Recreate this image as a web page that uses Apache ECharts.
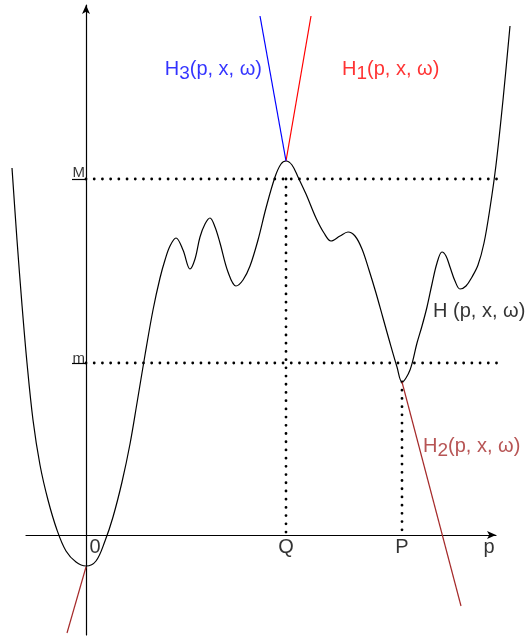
<!DOCTYPE html>
<html>
<head>
<meta charset="utf-8">
<title>H(p, x, ω)</title>
<script src="https://cdn.jsdelivr.net/npm/echarts@6/dist/echarts.min.js"></script>
<style>
html, body { margin: 0; padding: 0; background: #fff; }
#chart { width: 525px; height: 636px; }
</style>
</head>
<body>
<div id="chart"></div>
<script>
// H(p, x, ω) : valeurs (p en abscisse)
var curveP = [-1.85, -1.725, -1.6, -1.475, -1.325, -1.15, -0.95, -0.725, -0.5, -0.25,
    0, 0.25, 0.475, 0.675, 0.9, 1.1, 1.275, 1.475, 1.675, 1.85,
    1.975, 2.1, 2.25, 2.425, 2.6, 2.725, 2.85, 2.975, 3.1, 3.225,
    3.35, 3.55, 3.75, 3.925, 4.1, 4.3, 4.5, 4.725, 4.875, 5.0,
    5.15, 5.3, 5.5, 5.75, 5.95, 6.125, 6.35, 6.55, 6.725, 6.9,
    7.075, 7.25, 7.425, 7.6, 7.775, 7.9, 8.1, 8.275, 8.4, 8.525,
    8.65, 8.775, 8.9, 9.0, 9.1, 9.225, 9.35, 9.5, 9.65, 9.8,
    9.95, 10.1, 10.25, 10.425, 10.6];
var curveH = [9.175, 7.375, 5.75, 4.3, 2.875, 1.75, 0.875, 0.125, -0.4, -0.675,
    -0.775, -0.65, -0.15, 0.45, 1.325, 2.275, 3.3, 4.5, 5.625, 6.425,
    6.875, 7.225, 7.425, 7.125, 6.65, 6.9, 7.45, 7.775, 7.925, 7.7,
    7.3, 6.575, 6.225, 6.375, 6.725, 7.375, 8.175, 8.95, 9.275, 9.35,
    9.25, 8.95, 8.525, 7.925, 7.55, 7.35, 7.475, 7.575, 7.475, 7.15,
    6.625, 6.05, 5.425, 4.8, 4.2, 3.825, 4.125, 4.8, 5.225, 5.7,
    6.275, 6.8, 7.075, 6.975, 6.7, 6.35, 6.15, 6.225, 6.45, 6.75,
    7.3, 8.175, 9.25, 10.875, 12.725];

// droites tangentes
var h1P = [5.0, 5.625], h1H = [9.35, 12.975];
var h3P = [5.0, 4.35],  h3H = [9.35, 12.975];
var h2P = [7.9, 9.375], h2H = [3.825, -1.775];
var h2bP = [0, -0.475], h2bH = [-0.8, -2.45];

// niveaux M, m et points Q, P
var levelM = 8.9, levelm = 4.3;
var pointQ = 5.0, pointP = 7.9, hP = 3.825;
var dotEnd = 10.3;

var yTickValues = [levelm, levelM];

var font = 'Liberation Sans, Arial, sans-serif';

// grille 1 = même échelle que la grille des axes, mais plus large (la courbe déborde des axes)
var SERIES_GRID = 1;

function pairs(xs, ys) {
    return xs.map(function (x, i) { return [x, ys[i]]; });
}

function segment(name, xs, ys, color) {
    return {
        name: name, type: 'line', data: pairs(xs, ys),
        xAxisIndex: SERIES_GRID, yAxisIndex: SERIES_GRID,
        showSymbol: false, symbol: 'none', clip: false, silent: true,
        lineStyle: { color: color, width: 1.2 }
    };
}

function dotted(name, xs, ys) {
    return {
        name: name, type: 'line', data: pairs(xs, ys),
        xAxisIndex: SERIES_GRID, yAxisIndex: SERIES_GRID,
        showSymbol: false, symbol: 'none', clip: false, silent: true, z: 1,
        lineStyle: { color: '#000', width: 2.8, type: [0.01, 8.2], cap: 'round' }
    };
}

// étiquettes avec indice
function subLabel(main, sub, rest, color) {
    return {
        formatter: '{h|' + main + '}{s|' + sub + '}{h|' + rest + '}',
        rich: {
            h: { fontSize: 20, lineHeight: 24, color: color, fontFamily: font },
            s: { fontSize: 19, lineHeight: 24, padding: [10, 0, 0, 0], color: color, fontFamily: font }
        }
    };
}

function plain(text, size) {
    return { formatter: text, fontSize: size, color: '#000', fontFamily: font };
}

var notes = [
    { value: [4.4, 11.65], pos: 'left', lab: subLabel('H', '3', '(p, x, ω)', '#0000ff') },
    { value: [6.4, 11.65], pos: 'right', lab: subLabel('H', '1', '(p, x, ω)', '#ff0000') },
    { value: [8.675, 5.6], pos: 'right', lab: plain('H (p, x, ω)', 20) },
    { value: [8.425, 2.225], pos: 'right', lab: subLabel('H', '2', '(p, x, ω)', '#a52a2a') },
    { value: [-0.025, 9.05], pos: 'left', lab: plain('M', 15) },
    { value: [-0.025, 4.4], pos: 'left', lab: plain('m', 15) },
    { value: [0.225, -0.3], pos: 'inside', lab: plain('0', 20) },
    { value: [pointQ, -0.3], pos: 'inside', lab: plain('Q', 20) },
    { value: [pointP, -0.3], pos: 'inside', lab: plain('P', 20) },
    { value: [10.075, -0.3], pos: 'inside', lab: plain('p', 20) }
];

var chart = echarts.init(document.getElementById('chart'));

var axisLine = { onZero: true, symbol: ['none', 'arrow'], symbolSize: [6, 9], lineStyle: { color: '#000', width: 1.2 } };

var option = {
    animation: false,
    backgroundColor: '#fff',
    grid: [
        { left: 26, right: 29, top: 5, bottom: 1, containLabel: false, outerBoundsMode: 'none' },
        { left: 6, right: 9, top: 5, bottom: 1, containLabel: false, outerBoundsMode: 'none' }
    ],
    xAxis: [
        {
            gridIndex: 0, type: 'value', min: -1.5, max: 10.25,
            splitLine: { show: false }, axisLine: axisLine,
            axisTick: { show: false }, axisLabel: { show: false }
        },
        { gridIndex: 1, type: 'value', min: -2.0, max: 10.75, show: false, splitLine: { show: false } }
    ],
    yAxis: [
        {
            gridIndex: 0, type: 'value', min: -2.5, max: 13.25,
            splitLine: { show: false }, axisLine: axisLine,
            axisTick: { show: true, customValues: yTickValues, length: 14, inside: false, lineStyle: { color: '#000', width: 1.2 } },
            axisLabel: { show: false }
        },
        { gridIndex: 1, type: 'value', min: -2.5, max: 13.25, show: false, splitLine: { show: false } }
    ],
    series: [
        dotted('M', [0, dotEnd], [levelM, levelM]),
        dotted('m', [0, dotEnd + 0.05], [levelm, levelm]),
        dotted('Q', [pointQ, pointQ], [levelM, 0]),
        dotted('P', [pointP, pointP], [hP, 0]),
        {
            name: 'H', type: 'line', data: pairs(curveP, curveH),
            xAxisIndex: SERIES_GRID, yAxisIndex: SERIES_GRID,
            smooth: 0.35, showSymbol: false, symbol: 'none', clip: false, silent: true, z: 3,
            lineStyle: { color: '#000', width: 1.2 }
        },
        segment('H1', h1P, h1H, '#ff0000'),
        segment('H3', h3P, h3H, '#0000ff'),
        segment('H2', h2P, h2H, '#a52a2a'),
        segment('H2b', h2bP, h2bH, '#a52a2a'),
        {
            name: 'labels', type: 'scatter', symbolSize: 0, silent: true, clip: false,
            xAxisIndex: SERIES_GRID, yAxisIndex: SERIES_GRID,
            data: notes.map(function (n) {
                return {
                    value: n.value,
                    label: Object.assign({ show: true, position: n.pos, distance: 0 }, n.lab)
                };
            })
        }
    ]
};

chart.setOption(option);
</script>
</body>
</html>
